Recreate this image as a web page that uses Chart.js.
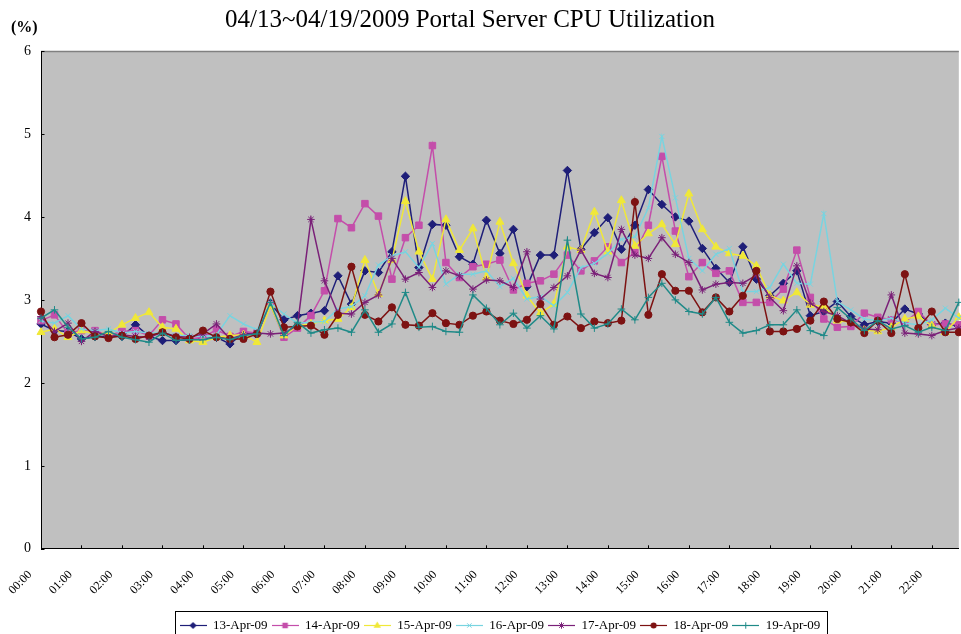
<!DOCTYPE html>
<html>
<head>
<meta charset="utf-8">
<script src="https://cdn.jsdelivr.net/npm/chart.js@4.4.1/dist/chart.umd.min.js"></script>
<style>
  html, body { margin: 0; padding: 0; background: #ffffff; overflow: hidden; }
  #wrap { position: relative; width: 961px; height: 634px; }
</style>
</head>
<body>
<div id="wrap"><canvas id="c"></canvas></div>
<script>
// ---------- data ----------
const chartTitle = '04/13~04/19/2009 Portal Server CPU Utilization';
const unitLabel = '(%)';
const timeLabels = [
  '00:00','00:20','00:40','01:00','01:20','01:40','02:00','02:20','02:40','03:00','03:20','03:40',
  '04:00','04:20','04:40','05:00','05:20','05:40','06:00','06:20','06:40','07:00','07:20','07:40',
  '08:00','08:20','08:40','09:00','09:20','09:40','10:00','10:20','10:40','11:00','11:20','11:40',
  '12:00','12:20','12:40','13:00','13:20','13:40','14:00','14:20','14:40','15:00','15:20','15:40',
  '16:00','16:20','16:40','17:00','17:20','17:40','18:00','18:20','18:40','19:00','19:20','19:40',
  '20:00','20:20','20:40','21:00','21:20','21:40','22:00','22:20','22:40'
];
const seriesNames = ['13-Apr-09','14-Apr-09','15-Apr-09','16-Apr-09','17-Apr-09','18-Apr-09','19-Apr-09'];
const yTicks = [0, 1, 2, 3, 4, 5, 6];

const apr13 = [2.71,2.63,2.62,2.53,2.56,2.56,2.56,2.70,2.56,2.51,
               2.51,2.52,2.53,2.55,2.47,2.60,2.58,2.96,2.76,2.81,
               2.84,2.87,3.29,2.95,3.35,3.33,3.58,4.49,3.39,3.91,
               3.90,3.52,3.43,3.96,3.56,3.85,3.16,3.54,3.54,4.56,
               3.61,3.81,3.99,3.61,3.90,4.33,4.15,4.00,3.95,3.62,
               3.38,3.21,3.64,3.25,3.05,3.20,3.35,2.81,2.86,2.98,
               2.80,2.70,2.74,2.72,2.89,2.83,2.70,2.72,2.68];
const apr14 = [2.75,2.82,2.60,2.63,2.63,2.57,2.62,2.63,2.57,2.76,
               2.71,2.53,2.55,2.64,2.56,2.62,2.60,2.94,2.55,2.66,
               2.81,3.11,3.98,3.87,4.16,4.01,3.25,3.75,3.90,4.86,
               3.45,3.27,3.40,3.43,3.48,3.12,3.20,3.23,3.31,3.54,
               3.35,3.47,3.64,3.45,3.57,3.90,4.73,3.83,3.28,3.45,
               3.32,3.35,2.97,2.97,2.97,3.13,3.60,3.03,2.77,2.67,
               2.68,2.84,2.79,2.76,2.73,2.86,2.70,2.71,2.70];
const apr15 = [2.61,2.65,2.55,2.63,2.59,2.60,2.70,2.78,2.85,2.67,
               2.65,2.51,2.49,2.55,2.57,2.58,2.49,2.93,2.57,2.69,
               2.71,2.75,2.77,2.91,3.48,3.07,3.48,4.19,3.58,3.25,
               3.97,3.60,3.86,3.27,3.94,3.44,3.05,2.84,2.95,3.64,
               3.60,4.06,3.58,4.20,3.65,3.80,3.91,3.67,4.28,3.85,
               3.64,3.56,3.53,3.41,3.05,2.99,3.09,2.94,2.92,2.75,
               2.73,2.64,2.62,2.67,2.77,2.80,2.69,2.61,2.79];
const apr16 = [2.75,2.72,2.81,2.65,2.63,2.65,2.60,2.62,2.60,2.60,
               2.57,2.57,2.56,2.58,2.81,2.71,2.64,2.96,2.83,2.72,
               2.73,2.74,2.89,2.92,3.05,3.42,3.53,3.58,3.39,3.68,
               3.19,3.31,3.31,3.35,3.16,3.26,3.01,3.04,2.93,3.09,
               3.39,3.44,3.56,3.73,3.76,4.11,4.97,4.23,3.50,3.35,
               3.55,3.62,3.10,3.10,3.15,3.43,3.20,3.19,4.04,2.98,
               2.88,2.77,2.75,2.78,2.72,2.70,2.76,2.90,2.78];
const apr17 = [2.80,2.62,2.72,2.50,2.62,2.56,2.58,2.56,2.55,2.61,
               2.56,2.55,2.59,2.71,2.53,2.58,2.60,2.59,2.60,2.69,
               3.97,3.23,2.84,2.83,2.97,3.06,3.50,3.25,3.33,3.15,
               3.35,3.29,3.13,3.24,3.23,3.15,3.58,3.01,3.15,3.29,
               3.60,3.32,3.27,3.85,3.54,3.50,3.75,3.55,3.45,3.12,
               3.19,3.21,3.20,3.30,3.03,2.87,3.41,2.96,2.86,2.81,
               2.72,2.65,2.64,3.06,2.60,2.59,2.57,2.63,2.66];
const apr18 = [2.86,2.55,2.58,2.72,2.56,2.54,2.57,2.53,2.57,2.61,
               2.55,2.53,2.63,2.55,2.53,2.53,2.59,3.10,2.67,2.68,
               2.69,2.58,2.82,3.40,2.82,2.74,2.91,2.70,2.69,2.84,
               2.72,2.70,2.81,2.86,2.75,2.71,2.76,2.95,2.70,2.80,
               2.66,2.74,2.72,2.75,4.18,2.82,3.31,3.11,3.11,2.85,
               3.03,2.86,3.05,3.35,2.62,2.62,2.65,2.75,2.98,2.77,
               2.73,2.60,2.75,2.60,3.31,2.66,2.86,2.61,2.61];
const apr19 = [2.78,2.88,2.67,2.53,2.55,2.62,2.55,2.52,2.49,2.60,
               2.51,2.52,2.52,2.55,2.52,2.57,2.59,2.97,2.57,2.73,
               2.60,2.64,2.66,2.61,2.88,2.61,2.71,3.09,2.67,2.68,
               2.62,2.61,3.06,2.90,2.70,2.84,2.66,2.81,2.65,3.72,
               2.83,2.66,2.71,2.89,2.76,3.03,3.20,3.00,2.86,2.83,
               3.03,2.73,2.60,2.63,2.70,2.70,2.88,2.63,2.57,2.91,
               2.77,2.63,2.75,2.65,2.69,2.61,2.67,2.63,2.97];

// ---------- styles ----------
const serif = "'Times New Roman', 'Liberation Serif', serif";
const seriesColors = ['#1E1E78', '#C44EAA', '#F0E838', '#78D4E0', '#7A2078', '#7D1212', '#1F8A88'];
const seriesMarkers = ['rectRot', 'rect', 'triangle', 'crossRot', 'star', 'circle', 'cross'];
const markerSizes = [4.2, 4.6, 4.6, 3.6, 3.8, 3.6, 3.8];
const seriesValues = [apr13, apr14, apr15, apr16, apr17, apr18, apr19];

function drawMarker(g, style, x, y, r, color) {
  g.save();
  g.fillStyle = color; g.strokeStyle = color; g.lineWidth = 1;
  g.beginPath();
  if (style === 'rectRot') {
    g.moveTo(x, y - r); g.lineTo(x + r, y); g.lineTo(x, y + r); g.lineTo(x - r, y); g.closePath(); g.fill();
  } else if (style === 'rect') {
    const s = r * Math.SQRT1_2; g.rect(x - s, y - s, 2 * s, 2 * s); g.fill();
  } else if (style === 'triangle') {
    g.moveTo(x, y - r); g.lineTo(x + r * 0.95, y + r * 0.6); g.lineTo(x - r * 0.95, y + r * 0.6); g.closePath(); g.fill();
  } else if (style === 'circle') {
    g.arc(x, y, r, 0, Math.PI * 2); g.fill();
  } else if (style === 'cross') {
    g.moveTo(x - r, y); g.lineTo(x + r, y); g.moveTo(x, y - r); g.lineTo(x, y + r); g.stroke();
  } else if (style === 'crossRot') {
    const d = r * Math.SQRT1_2;
    g.moveTo(x - d, y - d); g.lineTo(x + d, y + d); g.moveTo(x + d, y - d); g.lineTo(x - d, y + d); g.stroke();
  } else if (style === 'star') {
    const d = r * Math.SQRT1_2;
    g.moveTo(x - r, y); g.lineTo(x + r, y); g.moveTo(x, y - r); g.lineTo(x, y + r);
    g.moveTo(x - d, y - d); g.lineTo(x + d, y + d); g.moveTo(x + d, y - d); g.lineTo(x - d, y + d); g.stroke();
  }
  g.restore();
}

const iconWidth = 27;
function makeIcon(color, style, r) {
  const c = document.createElement('canvas');
  c.width = iconWidth; c.height = 11;
  const g = c.getContext('2d');
  g.strokeStyle = color; g.lineWidth = 1.2;
  g.beginPath(); g.moveTo(0, 5.5); g.lineTo(iconWidth, 5.5); g.stroke();
  drawMarker(g, style, iconWidth / 2, 5.5, r * 0.85, color);
  return c;
}
const legendIcons = seriesColors.map((c, i) => makeIcon(c, seriesMarkers[i], markerSizes[i]));

const datasets = seriesNames.map((name, i) => ({
  label: name,
  data: seriesValues[i],
  borderColor: seriesColors[i],
  backgroundColor: seriesColors[i],
  borderWidth: 1.5,
  pointStyle: seriesMarkers[i],
  pointRadius: markerSizes[i],
  pointBorderWidth: 1,
  pointBorderColor: seriesColors[i],
  pointBackgroundColor: seriesColors[i],
  tension: 0,
  clip: false,
  order: seriesNames.length - i
}));

const decorPlugin = {
  id: 'decor',
  afterLayout(chart) {
    // Excel placed the title slightly left of the canvas centre
    if (chart.titleBlock) { chart.titleBlock.right -= 21; }
  },
  beforeDraw(chart) {
    const { ctx, chartArea: a } = chart;
    ctx.save();
    ctx.fillStyle = '#FFFFFF';
    ctx.fillRect(0, 0, chart.width, chart.height);
    ctx.fillStyle = '#C0C0C0';
    ctx.fillRect(a.left, a.top, a.right - a.left, a.bottom - a.top);
    ctx.strokeStyle = '#808080'; ctx.lineWidth = 1.5;
    ctx.beginPath(); ctx.moveTo(a.left, a.top + 0.5); ctx.lineTo(a.right, a.top + 0.5); ctx.stroke();
    ctx.restore();
  },
  beforeDatasetsDraw(chart) {
    const { ctx, chartArea: a, scales } = chart;
    const x = scales.x, y = scales.y;
    ctx.save();
    ctx.strokeStyle = '#000'; ctx.lineWidth = 1;
    ctx.beginPath();
    for (let i = 0; i < x.ticks.length; i++) {
      const px = Math.round(x.getPixelForTick(i)) + 0.5;
      ctx.moveTo(px, a.bottom); ctx.lineTo(px, a.bottom - 3.5);
    }
    for (let i = 0; i < y.ticks.length; i++) {
      const py = Math.round(y.getPixelForTick(i)) + 0.5;
      ctx.moveTo(a.left, py); ctx.lineTo(a.left + 3.5, py);
    }
    ctx.stroke();
    ctx.restore();
  },
  afterDraw(chart) {
    const { ctx } = chart;
    ctx.save();
    ctx.fillStyle = '#000';
    ctx.font = 'bold 16px ' + serif;
    ctx.textBaseline = 'middle'; ctx.textAlign = 'left';
    ctx.fillText(unitLabel, 11, 28);
    // legend frame
    const hb = chart.legend && chart.legend.legendHitBoxes;
    if (hb && hb.length) {
      const l = Math.min(...hb.map(b => b.left)) - 5;
      const r = Math.max(...hb.map(b => b.left + b.width)) + 6;
      const t = hb[0].top - 8;
      const b = hb[0].top + hb[0].height + 8;
      ctx.strokeStyle = '#000'; ctx.lineWidth = 1;
      ctx.strokeRect(Math.round(l) + 0.5, Math.round(t) + 0.5, Math.round(r - l), Math.round(b - t));
    }
    ctx.restore();
  }
};

new Chart(document.getElementById('c'), {
  type: 'line',
  data: { labels: timeLabels, datasets },
  options: {
    responsive: true,
    maintainAspectRatio: false,
    animation: false,
    events: [],
    layout: { padding: { left: 0, right: 0, top: 0, bottom: -8 }, autoPadding: false },
    plugins: {
      title: {
        display: true, text: chartTitle, color: '#000',
        font: { family: serif, size: 25, weight: 'normal' },
        padding: { top: 5, bottom: 16 }
      },
      legend: {
        position: 'bottom',
        fullSize: false,
        labels: {
          usePointStyle: true,
          pointStyleWidth: iconWidth,
          boxHeight: 11,
          padding: 4,
          color: '#000',
          font: { family: serif, size: 13 },
          sort: (a, b) => a.datasetIndex - b.datasetIndex,
          generateLabels(chart) {
            const items = Chart.defaults.plugins.legend.labels.generateLabels(chart);
            items.forEach(it => { it.pointStyle = legendIcons[it.datasetIndex]; });
            return items;
          }
        }
      },
      tooltip: { enabled: false }
    },
    scales: {
      x: {
        type: 'category',
        offset: false,
        grid: { display: false, drawTicks: false },
        border: { display: true, color: '#000', width: 1 },
        ticks: {
          autoSkip: false, minRotation: 45, maxRotation: 45,
          padding: 19, labelOffset: -11,
          color: '#000', font: { family: serif, size: 12 },
          callback(value, index) { return index % 3 === 0 ? this.getLabelForValue(value) : null; }
        },
        afterFit(s) { s.height = 66.2; }
      },
      y: {
        min: yTicks[0], max: yTicks[yTicks.length - 1],
        grid: { display: false, drawTicks: false },
        border: { display: true, color: '#000', width: 1 },
        ticks: { stepSize: 1, padding: 10, color: '#000', font: { family: serif, size: 14 } },
        afterFit(s) { s.width = 41; }
      }
    }
  },
  plugins: [decorPlugin]
});
</script>
</body>
</html>
